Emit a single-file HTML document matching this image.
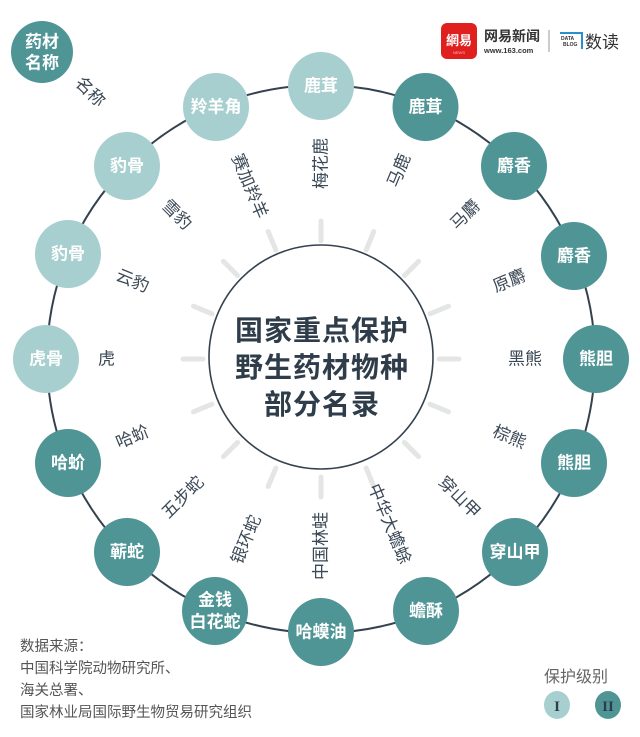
<!DOCTYPE html>
<html><head><meta charset="utf-8"><style>
html,body{margin:0;padding:0;background:#fff;}
svg{display:block;font-family:"Liberation Sans","Noto Sans CJK SC",sans-serif;}
.nl{fill:#a8cfcf}.nd{fill:#4f9596}
.nt{fill:#fff;font-weight:bold;font-size:17px;text-anchor:middle;dominant-baseline:central}
.lb{fill:#3b4856;font-size:17px;dominant-baseline:central}
.ray{stroke:#e4e6e6;stroke-width:5;stroke-linecap:round}
.src{fill:#555;font-size:14.5px}
</style></head><body>
<svg width="640" height="737" viewBox="0 0 640 737" xmlns="http://www.w3.org/2000/svg">
<g transform="translate(321,359)">
<g class="ray">
<line x1="0" y1="-118" x2="0" y2="-138" transform="rotate(0)"/>
<line x1="0" y1="-118" x2="0" y2="-138" transform="rotate(22.5)"/>
<line x1="0" y1="-118" x2="0" y2="-138" transform="rotate(45)"/>
<line x1="0" y1="-118" x2="0" y2="-138" transform="rotate(67.5)"/>
<line x1="0" y1="-118" x2="0" y2="-138" transform="rotate(90)"/>
<line x1="0" y1="-118" x2="0" y2="-138" transform="rotate(112.5)"/>
<line x1="0" y1="-118" x2="0" y2="-138" transform="rotate(135)"/>
<line x1="0" y1="-118" x2="0" y2="-138" transform="rotate(157.5)"/>
<line x1="0" y1="-118" x2="0" y2="-138" transform="rotate(180)"/>
<line x1="0" y1="-118" x2="0" y2="-138" transform="rotate(202.5)"/>
<line x1="0" y1="-118" x2="0" y2="-138" transform="rotate(225)"/>
<line x1="0" y1="-118" x2="0" y2="-138" transform="rotate(247.5)"/>
<line x1="0" y1="-118" x2="0" y2="-138" transform="rotate(270)"/>
<line x1="0" y1="-118" x2="0" y2="-138" transform="rotate(292.5)"/>
<line x1="0" y1="-118" x2="0" y2="-138" transform="rotate(315)"/>
<line x1="0" y1="-118" x2="0" y2="-138" transform="rotate(337.5)"/>
</g>
</g>
<circle cx="321" cy="359" r="274" fill="none" stroke="#34424f" stroke-width="2"/>
<circle cx="321" cy="357" r="112" fill="#fff" stroke="#34424f" stroke-width="1.6"/>
<g fill="#2f3d4b" font-weight="bold" font-size="28" text-anchor="middle" letter-spacing="1">
<text x="322" y="340">国家重点保护</text>
<text x="322" y="377">野生药材物种</text>
<text x="322" y="414">部分名录</text>
</g>
<g>
<ellipse class="nl" cx="321" cy="86" rx="33" ry="34"/><text class="nt" x="321" y="86">鹿茸</text>
<ellipse class="nd" cx="425.5" cy="107" rx="33" ry="34"/><text class="nt" x="425.5" y="107">鹿茸</text>
<ellipse class="nd" cx="514" cy="166" rx="33" ry="34"/><text class="nt" x="514" y="166">麝香</text>
<ellipse class="nd" cx="574" cy="256" rx="33" ry="34"/><text class="nt" x="574" y="256">麝香</text>
<ellipse class="nd" cx="596" cy="359" rx="33" ry="34"/><text class="nt" x="596" y="359">熊胆</text>
<ellipse class="nd" cx="574" cy="463" rx="33" ry="34"/><text class="nt" x="574" y="463">熊胆</text>
<ellipse class="nd" cx="515" cy="552" rx="33" ry="34"/><text class="nt" x="515" y="552">穿山甲</text>
<ellipse class="nd" cx="426" cy="611" rx="33" ry="34"/><text class="nt" x="426" y="611">蟾酥</text>
<ellipse class="nd" cx="321" cy="632" rx="33" ry="34"/><text class="nt" x="321" y="632">哈蟆油</text>
<ellipse class="nd" cx="215" cy="611" rx="33" ry="34"/><text class="nt" x="215" y="600">金钱</text><text class="nt" x="215" y="622">白花蛇</text>
<ellipse class="nd" cx="127" cy="552" rx="33" ry="34"/><text class="nt" x="127" y="552">蕲蛇</text>
<ellipse class="nd" cx="68" cy="463" rx="33" ry="34"/><text class="nt" x="68" y="463">哈蚧</text>
<ellipse class="nl" cx="46" cy="359" rx="33" ry="34"/><text class="nt" x="46" y="359">虎骨</text>
<ellipse class="nl" cx="68" cy="254" rx="33" ry="34"/><text class="nt" x="68" y="254">豹骨</text>
<ellipse class="nl" cx="127" cy="166" rx="33" ry="34"/><text class="nt" x="127" y="166">豹骨</text>
<ellipse class="nl" cx="216" cy="107" rx="33" ry="34"/><text class="nt" x="216" y="107">羚羊角</text>
</g>
<g class="lb">
<text text-anchor="end" transform="translate(321,138) rotate(-90)">梅花鹿</text>
<text text-anchor="end" transform="translate(405.6,154.8) rotate(-67.5)">马鹿</text>
<text text-anchor="end" transform="translate(477.3,202.7) rotate(-45)">马麝</text>
<text text-anchor="end" transform="translate(525.2,274.4) rotate(-22.5)">原麝</text>
<text text-anchor="end" transform="translate(542,359) rotate(0)">黑熊</text>
<text text-anchor="end" transform="translate(525.2,443.6) rotate(22.5)">棕熊</text>
<text text-anchor="end" transform="translate(477.3,515.3) rotate(45)">穿山甲</text>
<text text-anchor="end" transform="translate(405.6,563.2) rotate(67.5)">中华大蟾蜍</text>
<text text-anchor="start" transform="translate(321,580) rotate(-90)">中国林蛙</text>
<text text-anchor="start" transform="translate(236.4,563.2) rotate(-67.5)">银环蛇</text>
<text text-anchor="start" transform="translate(164.7,515.3) rotate(-45)">五步蛇</text>
<text text-anchor="start" transform="translate(116.8,443.6) rotate(-22.5)">哈蚧</text>
<text text-anchor="start" transform="translate(98,359) rotate(0)">虎</text>
<text text-anchor="start" transform="translate(116.8,274.4) rotate(22.5)">云豹</text>
<text text-anchor="start" transform="translate(164.7,202.7) rotate(45)">雪豹</text>
<text text-anchor="start" transform="translate(236.4,154.8) rotate(67.5)">赛加羚羊</text>
<text text-anchor="start" transform="translate(78,80) rotate(45)">名称</text>
</g>
<circle class="nd" cx="42" cy="52" r="31"/>
<text class="nt" x="42" y="42">药材</text><text class="nt" x="42" y="63">名称</text>
<rect x="441" y="23" width="36" height="36" rx="6" fill="#e0201f"/>
<text x="459" y="45" fill="#fff" font-size="13" font-weight="bold" text-anchor="middle">網易</text>
<text x="459" y="54" fill="#fbb" font-size="4" text-anchor="middle">NEWS</text>
<text x="484" y="41" fill="#333" font-size="14" font-weight="bold">网易新闻</text>
<text x="484" y="53" fill="#333" font-size="7.5" font-weight="bold">www.163.com</text>
<line x1="549" y1="30" x2="549" y2="52" stroke="#999" stroke-width="1"/>
<path d="M560 33 H582 V49" fill="none" stroke="#2a8fcf" stroke-width="2"/>
<text x="561" y="40" fill="#333" font-size="5" font-weight="bold">DATA</text>
<text x="563" y="46" fill="#333" font-size="5" font-weight="bold">BLOG</text>
<text x="585" y="48" fill="#333" font-size="17">数读</text>
<g class="src">
<text x="20" y="651">数据来源：</text>
<text x="20" y="673">中国科学院动物研究所、</text>
<text x="20" y="695">海关总署、</text>
<text x="20" y="717">国家林业局国际野生物贸易研究组织</text>
</g>
<text x="544" y="682" fill="#666" font-size="16">保护级别</text>
<ellipse class="nl" cx="557" cy="705" rx="13" ry="14"/>
<text x="557" y="711" fill="#2f3d4b" font-size="15" font-weight="bold" text-anchor="middle" font-family="Liberation Serif,serif">I</text>
<ellipse class="nd" cx="608" cy="705" rx="13" ry="14"/>
<text x="608" y="711" fill="#2f3d4b" font-size="15" font-weight="bold" text-anchor="middle" font-family="Liberation Serif,serif">II</text>
</svg>
</body></html>
